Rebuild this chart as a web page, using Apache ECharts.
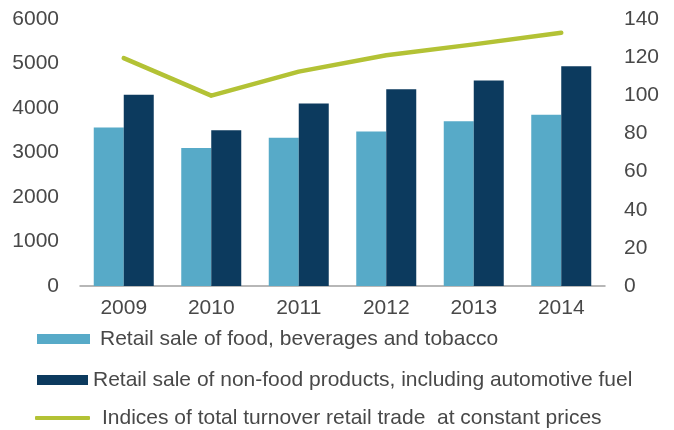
<!DOCTYPE html>
<html>
<head>
<meta charset="utf-8">
<script src="https://cdn.jsdelivr.net/npm/echarts@6/dist/echarts.min.js"></script>
<style>
  html, body { margin: 0; padding: 0; background: #ffffff; }
  #chart { width: 674px; height: 430px; }
</style>
</head>
<body>
<div id="chart"></div>
<script>
// Retail sales by product group (left axis) and turnover index (right axis)
const years = ['2009', '2010', '2011', '2012', '2013', '2014'];
const foodSales = [3560, 3100, 3330, 3470, 3700, 3850];
const nonFoodSales = [4300, 3500, 4100, 4420, 4620, 4940];
const turnoverIndex = [119.5, 99.8, 112.4, 121.0, 126.7, 132.8];
const leftTicks = { min: 0, max: 6000, step: 1000 };
const rightTicks = { min: 0, max: 140, step: 20 };

const seriesNames = [
  'Retail sale of food, beverages and tobacco',
  'Retail sale of non-food products, including automotive fuel',
  'Indices of total turnover retail trade  at constant prices'
];

const FONT = '"Liberation Sans", Arial, sans-serif';
const TEXT = '#484848';
const LIGHT = '#57AAC8';
const NAVY = '#0C3A5E';
const GREEN = '#B3C235';

const chart = echarts.init(document.getElementById('chart'), null, { renderer: 'canvas' });

const legendText = (padLeft) => ({
  color: TEXT, fontSize: 21, fontFamily: FONT, lineHeight: 24, padding: [0, 0, 0, padLeft]
});

// plain integers on the axes, no thousands separator
const plain = (v) => String(v);

chart.setOption({
  animation: false,
  backgroundColor: '#ffffff',
  textStyle: { fontFamily: FONT },
  grid: { left: 80, right: 69, top: 19, bottom: 144, containLabel: false },
  legend: [
    {
      data: [seriesNames[0]], left: 37, top: 327, padding: 0,
      itemWidth: 53, itemHeight: 10, icon: 'rect',
      textStyle: legendText(5)
    },
    {
      data: [seriesNames[1]], left: 37, top: 368, padding: 0,
      itemWidth: 51, itemHeight: 10, icon: 'rect',
      textStyle: legendText(0)
    },
    {
      data: [seriesNames[2]], left: 35, top: 406, padding: 0,
      itemWidth: 55, itemHeight: 4, icon: 'roundRect',
      textStyle: legendText(7)
    }
  ],
  xAxis: {
    type: 'category',
    data: years,
    axisLine: { lineStyle: { color: '#A0A0A0', width: 1.5 } },
    axisTick: { show: false },
    axisLabel: { color: TEXT, fontSize: 21, fontFamily: FONT, margin: 12 }
  },
  yAxis: [
    {
      type: 'value',
      min: leftTicks.min, max: leftTicks.max, interval: leftTicks.step,
      axisLine: { show: false },
      axisTick: { show: false },
      splitLine: { show: false },
      axisLabel: { color: TEXT, fontSize: 21, fontFamily: FONT, margin: 21, formatter: plain }
    },
    {
      type: 'value',
      position: 'right',
      min: rightTicks.min, max: rightTicks.max, interval: rightTicks.step,
      axisLine: { show: false },
      axisTick: { show: false },
      splitLine: { show: false },
      axisLabel: { color: TEXT, fontSize: 21, fontFamily: FONT, margin: 19, formatter: plain }
    }
  ],
  series: [
    {
      name: seriesNames[0],
      type: 'bar',
      data: foodSales,
      barWidth: 30,
      barGap: '0%',
      itemStyle: { color: LIGHT }
    },
    {
      name: seriesNames[1],
      type: 'bar',
      data: nonFoodSales,
      barWidth: 30,
      barGap: '0%',
      itemStyle: { color: NAVY }
    },
    {
      name: seriesNames[2],
      type: 'line',
      yAxisIndex: 1,
      data: turnoverIndex,
      symbol: 'none',
      z: 5,
      itemStyle: { color: GREEN },
      lineStyle: { color: GREEN, width: 4.5, cap: 'round', join: 'round' }
    }
  ]
});
</script>
</body>
</html>
